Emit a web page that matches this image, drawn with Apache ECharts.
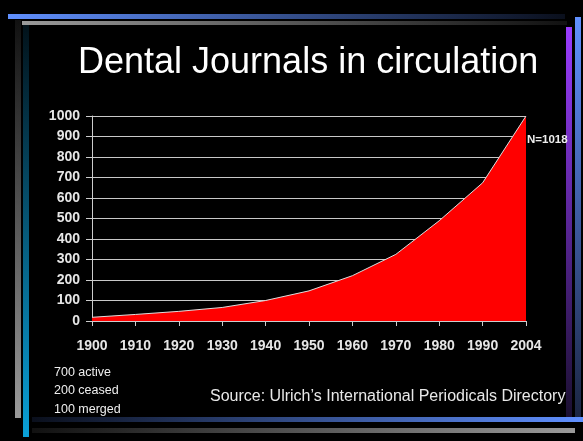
<!DOCTYPE html>
<html><head><meta charset="utf-8">
<script src="https://cdn.jsdelivr.net/npm/echarts@6/dist/echarts.min.js"></script>
<style>html,body{margin:0;padding:0;background:#000;}#c{width:583px;height:441px;}</style>
</head><body><div id="c"></div>
<script>
const years = ['1900','1910','1920','1930','1940','1950','1960','1970','1980','1990','2004'];
const journals = [18, 32, 47, 66, 100, 147, 221, 325, 489, 674, 1000];
const yTicks = {min: 0, max: 1000, interval: 100};
const notes = ['700 active', '200 ceased', '100 merged'];
const titleText = 'Dental Journals in circulation';
const sourceText = 'Source: Ulrich\u2019s International Periodicals Directory';
const totalLabel = 'N=1018';

const FONT = '"Liberation Sans", Arial, sans-serif';
const chart = echarts.init(document.getElementById('c'));
function lg(x2, y2, c1, c2) {
  return {type: 'linear', x: 0, y: 0, x2: x2, y2: y2, colorStops: [{offset: 0, color: c1}, {offset: 1, color: c2}]};
}
const graphics = [
  {type: 'rect', shape: {x: 8, y: 14, width: 557, height: 5}, style: {fill: lg(1, 0, '#6090ff', '#0a0f1c')}, z: 1},
  {type: 'rect', shape: {x: 22, y: 21, width: 545, height: 4}, style: {fill: lg(1, 0, '#9a9a9a', '#111')}, z: 1},
  {type: 'rect', shape: {x: 15, y: 20, width: 6, height: 398}, style: {fill: lg(0, 1, '#111', '#9a9a9a')}, z: 1},
  {type: 'rect', shape: {x: 23, y: 25, width: 6, height: 412}, style: {fill: lg(0, 1, '#02121a', '#0aa0d8')}, z: 1},
  {type: 'rect', shape: {x: 566, y: 27, width: 6, height: 390}, style: {fill: lg(0, 1, '#9a3cff', '#1a0f30')}, z: 1},
  {type: 'rect', shape: {x: 575, y: 17, width: 6, height: 405}, style: {fill: lg(0, 1, '#6090ff', '#1a2440')}, z: 1},
  {type: 'rect', shape: {x: 32, y: 417, width: 551, height: 5}, style: {fill: lg(1, 0, '#0a0f1c', '#6090ff')}, z: 1},
  {type: 'rect', shape: {x: 32, y: 428, width: 543, height: 5}, style: {fill: lg(1, 0, '#111', '#9a9a9a')}, z: 1},
  {type: 'text', left: 78, top: 45, style: {text: titleText, fill: '#fff', font: '36px ' + FONT}, z: 5},
  {type: 'text', left: 527, top: 134, style: {text: totalLabel, fill: '#eee', font: 'bold 11.5px ' + FONT}, z: 5},
  {type: 'text', left: 210, top: 389, style: {text: sourceText, fill: '#e8e8e8', font: '16px ' + FONT}, z: 5}
];
notes.forEach((t, i) => {
  graphics.push({type: 'text', left: 54, top: 366 + i * 18.3, style: {text: t, fill: '#eee', font: '12.5px ' + FONT}, z: 5});
});

chart.setOption({
  backgroundColor: '#000',
  animation: false,
  grid: {left: 92, right: 57, top: 116, bottom: 120},
  xAxis: {
    type: 'category', data: years, boundaryGap: false,
    axisLine: {lineStyle: {color: '#ccc', width: 1}},
    axisTick: {show: true, length: 5, alignWithLabel: true, lineStyle: {color: '#ccc'}},
    axisLabel: {color: '#e6e6e6', fontSize: 14, fontWeight: 'bold', fontFamily: FONT, margin: 18},
    splitLine: {show: false}
  },
  yAxis: {
    type: 'value', min: yTicks.min, max: yTicks.max, interval: yTicks.interval,
    axisLine: {show: true, lineStyle: {color: '#ccc', width: 1}},
    axisTick: {show: true, length: 6, lineStyle: {color: '#ccc'}},
    axisLabel: {color: '#e6e6e6', fontSize: 14, fontWeight: 'bold', fontFamily: FONT, margin: 12,
      formatter: v => String(v)},
    splitLine: {show: true, lineStyle: {color: '#c8c8c8', width: 1}}
  },
  series: [{
    type: 'line', data: journals, symbol: 'none', smooth: false,
    lineStyle: {color: '#ddd', width: 1},
    areaStyle: {color: '#ff0000', opacity: 1},
    z: 3
  }],
  graphic: graphics
});
</script></body></html>
